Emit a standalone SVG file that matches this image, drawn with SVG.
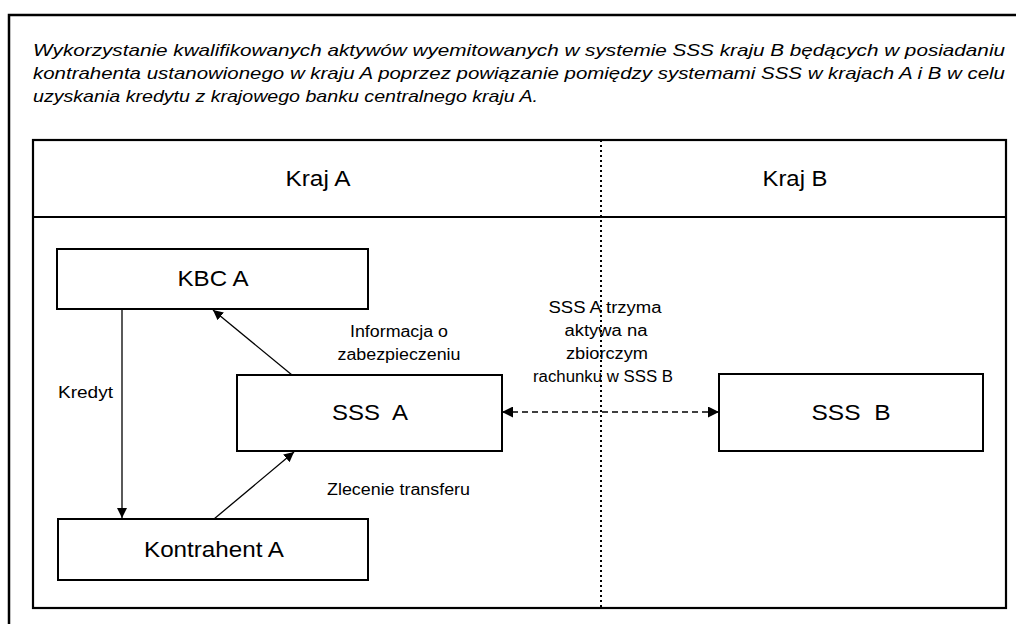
<svg xmlns="http://www.w3.org/2000/svg" width="1016" height="624" viewBox="0 0 1016 624">
<defs>
<style>
text{font-family:"Liberation Sans",Arial,sans-serif;fill:#000}
.box{fill:#fff;stroke:#000;stroke-width:2}
.frame{fill:none;stroke:#000;stroke-width:2.2}
.lbl{font-size:22px;text-anchor:middle}
.sm{font-size:16px}
.smc{font-size:16px;text-anchor:middle}
.title{font-size:17px;font-style:italic}
.conn{stroke:#000;stroke-width:1.3;fill:none}
</style>
<marker id="ah" viewBox="0 0 10 10" refX="10" refY="5" markerWidth="10" markerHeight="10" markerUnits="userSpaceOnUse" orient="auto-start-reverse">
<path d="M0,0 L10,5 L0,10 z" fill="#000"/>
</marker>
<marker id="ah2" viewBox="0 0 10 10" refX="10" refY="5" markerWidth="11" markerHeight="11" markerUnits="userSpaceOnUse" orient="auto-start-reverse">
<path d="M0,0 L10,5 L0,10 z" fill="#000"/>
</marker>
</defs>
<rect width="1016" height="624" fill="#fff"/>
<g id="outer-frame">
<path d="M9,624 V15 H1016" fill="none" stroke="#000" stroke-width="2.5"/>
</g>
<g id="title">
<text class="title" x="33" y="56" textLength="972" lengthAdjust="spacingAndGlyphs">Wykorzystanie kwalifikowanych aktywów wyemitowanych w systemie SSS kraju B będących w posiadaniu</text>
<text class="title" x="33" y="79" textLength="972" lengthAdjust="spacingAndGlyphs">kontrahenta ustanowionego w kraju A poprzez powiązanie pomiędzy systemami SSS w krajach A i B w celu</text>
<text class="title" x="33" y="102" textLength="505" lengthAdjust="spacingAndGlyphs">uzyskania kredytu z krajowego banku centralnego kraju A.</text>
</g>
<g id="inner-frame">
<rect class="frame" x="33" y="140" width="973" height="468"/>
<line x1="33" y1="217" x2="1006" y2="217" stroke="#000" stroke-width="2.2"/>
<line x1="601" y1="140" x2="601" y2="608" stroke="#000" stroke-width="2" stroke-dasharray="2,3"/>
<text class="lbl" x="318" y="186" textLength="65" lengthAdjust="spacingAndGlyphs">Kraj A</text>
<text class="lbl" x="795" y="186" textLength="65" lengthAdjust="spacingAndGlyphs">Kraj B</text>
</g>
<g id="connectors">
<line class="conn" x1="122" y1="309" x2="122" y2="518" marker-end="url(#ah)"/>
<line class="conn" x1="292" y1="375" x2="213" y2="310" marker-end="url(#ah)"/>
<line class="conn" x1="214" y1="519" x2="294" y2="452" marker-end="url(#ah)"/>
<line class="conn" x1="502" y1="412" x2="719" y2="412" stroke-dasharray="6,4" stroke-width="2" marker-start="url(#ah2)" marker-end="url(#ah2)"/>
<text class="sm" x="58" y="398" textLength="55" lengthAdjust="spacingAndGlyphs">Kredyt</text>
<text class="smc" x="399" y="337" textLength="98" lengthAdjust="spacingAndGlyphs">Informacja o</text>
<text class="smc" x="399" y="360" textLength="123" lengthAdjust="spacingAndGlyphs">zabezpieczeniu</text>
<text class="sm" x="327" y="495" textLength="143" lengthAdjust="spacingAndGlyphs">Zlecenie transferu</text>
<text class="smc" x="605" y="313" textLength="113" lengthAdjust="spacingAndGlyphs">SSS A trzyma</text>
<text class="smc" x="606" y="336" textLength="83" lengthAdjust="spacingAndGlyphs">aktywa na</text>
<text class="smc" x="607" y="359" textLength="82" lengthAdjust="spacingAndGlyphs">zbiorczym</text>
<text class="smc" x="603" y="382" textLength="140" lengthAdjust="spacingAndGlyphs">rachunku w SSS B</text>
</g>
<g id="kbc-a">
<rect class="box" x="57" y="249" width="311" height="60"/>
<text class="lbl" x="213" y="286" textLength="71" lengthAdjust="spacingAndGlyphs">KBC A</text>
</g>
<g id="sss-a">
<rect class="box" x="237" y="375" width="265" height="76"/>
<text class="lbl" x="370" y="420" xml:space="preserve" textLength="76" lengthAdjust="spacingAndGlyphs">SSS  A</text>
</g>
<g id="sss-b">
<rect class="box" x="719" y="374" width="264" height="77"/>
<text class="lbl" x="851" y="420" xml:space="preserve" textLength="79" lengthAdjust="spacingAndGlyphs">SSS  B</text>
</g>
<g id="kontrahent-a">
<rect class="box" x="58" y="519" width="310" height="61"/>
<text class="lbl" x="214" y="557" textLength="140" lengthAdjust="spacingAndGlyphs">Kontrahent A</text>
</g>
</svg>
